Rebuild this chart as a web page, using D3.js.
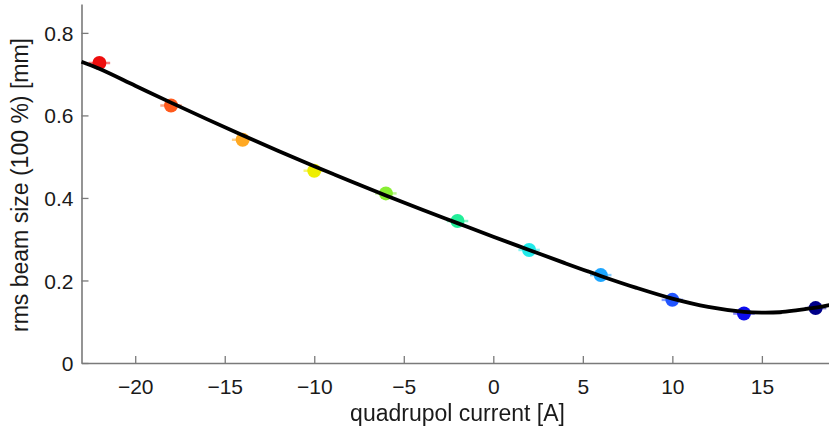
<!DOCTYPE html>
<html>
<head>
<meta charset="utf-8">
<script src="https://cdn.jsdelivr.net/npm/d3@7/dist/d3.min.js"></script>
<style>
  html, body { margin: 0; padding: 0; background: #fff; }
  svg { display: block; }
  text { font-family: "Liberation Sans", Arial, Helvetica, sans-serif; fill: #1a1a1a; }
</style>
</head>
<body>
<svg id="chart" width="829" height="429"></svg>
<script>
// Measured beam size at each quadrupole current
const currents   = [-22, -18, -14, -10, -6, -2, 2, 6, 10, 14, 18];
const beamSizes  = [0.727, 0.624, 0.541, 0.466, 0.411, 0.344, 0.274, 0.213, 0.153, 0.120, 0.133];
const currentErr = [0.6, 0.6, 0.6, 0.6, 0.6, 0.6, 0.6, 0.6, 0.6, 0.6, 0.6];
const pointColors = ["#ee1111", "#ff5a1e", "#ffa820", "#eeee00", "#88ee33", "#22ee99",
                     "#22eaea", "#1fa6ff", "#2255ff", "#1010ee", "#00008a"];

// Fitted beam-size curve
const fitCurrents = [-23, -22, -20, -18, -16, -14, -12, -10, -8, -6, -4, -2, 0, 2, 4, 6, 8, 10, 12, 14, 15, 16, 17, 18, 19];
const fitSizes    = [0.730, 0.713, 0.672, 0.631, 0.591, 0.552, 0.514, 0.477, 0.441, 0.406, 0.372, 0.339,
                     0.306, 0.274, 0.242, 0.211, 0.182, 0.156, 0.136, 0.124, 0.122, 0.123, 0.128, 0.134, 0.142];

// Axis ticks
const xTicks = [-20, -15, -10, -5, 0, 5, 10, 15];
const yTicks = [0, 0.2, 0.4, 0.6, 0.8];

const svg = d3.select("#chart");
const x = d3.scaleLinear().domain([-23, 19]).range([81.5, 833.5]);
const y = d3.scaleLinear().domain([0, 0.87]).range([363, 4]);

const axisColor = "#7a7a7a";

// Axes (ticks point into the plot area)
const gx = svg.append("g").attr("transform", `translate(0,${y(0)})`)
  .call(d3.axisBottom(x).tickValues(xTicks).tickSize(-7).tickPadding(16)
        .tickFormat(d3.format("d")).tickSizeOuter(0));
const gy = svg.append("g").attr("transform", `translate(${x(-23)},0)`)
  .call(d3.axisLeft(y).tickValues(yTicks).tickSize(-7).tickPadding(8)
        .tickFormat(d => d === 0 ? "0" : d3.format(".1f")(d)).tickSizeOuter(0));

[gx, gy].forEach(g => {
  g.select(".domain").attr("stroke", axisColor).attr("stroke-width", 1.6);
  g.selectAll(".tick line").attr("stroke", axisColor).attr("stroke-width", 1.3);
  g.selectAll(".tick text").attr("font-size", 21).attr("fill", "#1a1a1a")
    .attr("font-family", "'Liberation Sans', Arial, sans-serif");
});
gy.selectAll(".tick text").attr("dy", "0.36em");

const soft = svg.append("defs").append("filter").attr("id", "soft")
  .attr("x", "-50%").attr("y", "-50%").attr("width", "200%").attr("height", "200%");
soft.append("feGaussianBlur").attr("stdDeviation", 0.7);

// Data points with horizontal error bars
const pts = svg.append("g").attr("filter", "url(#soft)");
const pointData = currents.map((c, i) => ({ c, s: beamSizes[i], e: currentErr[i], col: pointColors[i] }));
pts.selectAll("line.err").data(pointData).join("line")
  .attr("class", "err")
  .attr("x1", d => x(d.c - d.e)).attr("x2", d => x(d.c + d.e))
  .attr("y1", d => y(d.s)).attr("y2", d => y(d.s))
  .attr("stroke", d => d.col).attr("stroke-width", 2.5).attr("opacity", 0.55);
pts.selectAll("circle").data(pointData).join("circle")
  .attr("cx", d => x(d.c)).attr("cy", d => y(d.s)).attr("r", 7)
  .attr("fill", d => d.col);

// Fit curve
const line = d3.line().x((d, i) => x(fitCurrents[i])).y(d => y(d)).curve(d3.curveCatmullRom.alpha(0.5));
svg.append("path").datum(fitSizes)
  .attr("d", line).attr("fill", "none").attr("stroke", "#000").attr("stroke-width", 3.8)
  .attr("stroke-linejoin", "round");

// Axis titles
svg.append("text").attr("x", x(-2)).attr("y", 421).attr("text-anchor", "middle")
  .attr("font-size", 23).text("quadrupol current [A]");
svg.append("text").attr("transform", "translate(28,185) rotate(-90)").attr("text-anchor", "middle")
  .attr("font-size", 23).text("rms beam size (100 %) [mm]");
</script>
</body>
</html>
